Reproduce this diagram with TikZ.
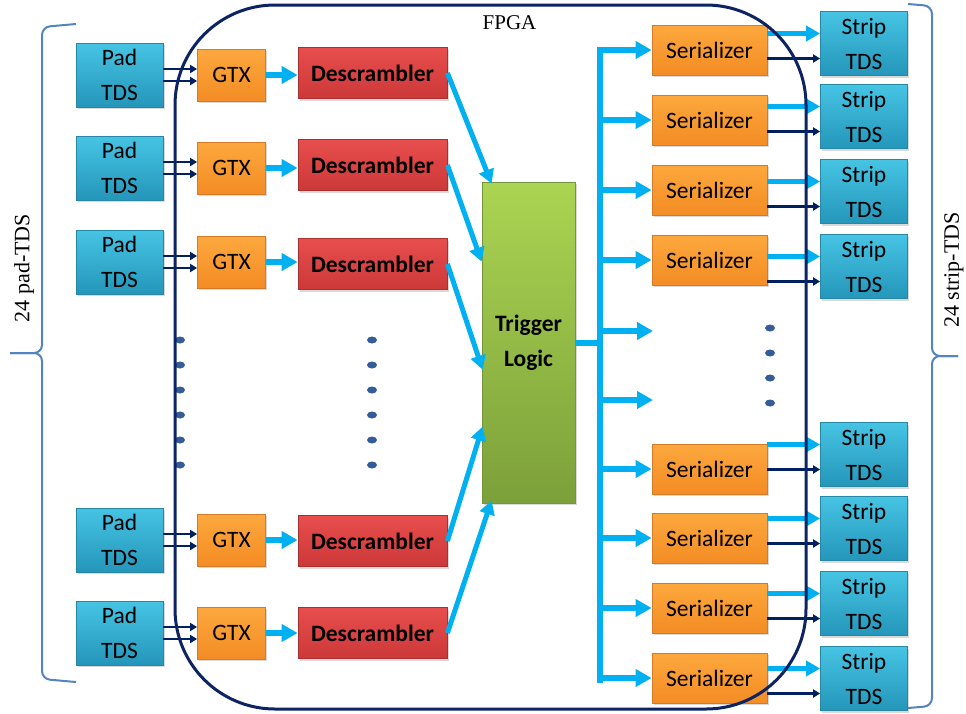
\documentclass[tikz,border=0pt]{standalone}
\usepackage{fontspec}
\setmainfont{Liberation Serif}
\newfontfamily\calibfont{Carlito}
\usetikzlibrary{arrows.meta,positioning,calc,shadows}

\definecolor{tdstop}{RGB}{70,196,228}
\definecolor{tdsbot}{RGB}{36,150,186}
\definecolor{tdsline}{RGB}{40,135,165}
\definecolor{orgtop}{RGB}{252,168,62}
\definecolor{orgbot}{RGB}{244,140,36}
\definecolor{orgline}{RGB}{212,122,40}
\definecolor{redtop}{RGB}{232,78,78}
\definecolor{redbot}{RGB}{204,56,56}
\definecolor{redline}{RGB}{168,48,48}
\definecolor{grntop}{RGB}{171,212,82}
\definecolor{grnbot}{RGB}{124,160,58}
\definecolor{grnline}{RGB}{118,148,60}
\definecolor{cyanarr}{RGB}{0,176,240}
\definecolor{navy}{RGB}{0,32,96}
\definecolor{fpgaline}{RGB}{12,36,100}
\definecolor{bracecol}{RGB}{84,132,192}
\definecolor{dotblue}{RGB}{52,92,152}

\tikzset{
  box/.style={draw, line width=0.8pt, inner sep=0pt, align=center, text=black,
    font=\calibfont\fontsize{23.5}{35}\selectfont,
    drop shadow={shadow xshift=1.5pt,shadow yshift=-2pt,opacity=0.3}},
  tdsbox/.style={box, draw=tdsline, top color=tdstop, bottom color=tdsbot,
    minimum width=87pt, minimum height=64pt},
  gtxbox/.style={box, draw=orgline, top color=orgtop, bottom color=orgbot,
    minimum width=68pt, minimum height=52pt},
  serbox/.style={box, draw=orgline, top color=orgtop, bottom color=orgbot,
    minimum width=115pt, minimum height=50pt},
  descbox/.style={box, draw=redline, top color=redtop, bottom color=redbot,
    minimum width=149pt, minimum height=51pt, font=\calibfont\bfseries\fontsize{23.5}{35}\selectfont},
  trigbox/.style={box, draw=grnline, top color=grntop, bottom color=grnbot,
    minimum width=93pt, minimum height=321pt, font=\calibfont\bfseries\fontsize{23.5}{35}\selectfont},
  fatarrow/.style={draw=cyanarr, line width=6pt, -{Triangle[width=17pt,length=16pt]}},
  slantarrow/.style={draw=cyanarr, line width=5pt, -{Triangle[width=15pt,length=14pt]}},
  thinarrow/.style={draw=navy, line width=2.5pt, -{Triangle[width=8pt,length=7pt]}},
  bus/.style={draw=cyanarr, line width=6pt},
  bracestyle/.style={draw=bracecol, line width=2pt, rounded corners=8pt},
  sidelabel/.style={rotate=90, font=\fontsize{22}{26}\selectfont}
}

\begin{document}
\begin{tikzpicture}[x=1pt,y=-1pt]
\useasboundingbox (0,0) rectangle (966,713);

% Pad-TDS, GTX and Descrambler rows
\foreach \i/\y/\d in {1/75/73, 2/168/165, 3/262/264, 4/540/541, 5/633/633} {
  \node[tdsbox] (pad\i) at (119.5,\y) {Pad\\TDS};
  \node[gtxbox] (gtx\i) at (231.5,\y) {GTX};
  \node[descbox] (desc\i) at (372.5,\d) {Descrambler};
  \draw[thinarrow] ($(pad\i.east)+(0,-6)$) -- ($(gtx\i.west |- pad\i.east)+(0,-6)$);
  \draw[thinarrow] ($(pad\i.east)+(0,6)$) -- ($(gtx\i.west |- pad\i.east)+(0,6)$);
  \draw[fatarrow] (gtx\i.east) -- (gtx\i.east -| desc\i.west);
}

% Trigger logic
\node[trigbox] (trig) at (528.5,342.5) {Trigger\\Logic};
\draw[slantarrow] (desc1.east) -- ($(trig.north west)+(10,2)$);
\draw[slantarrow] (desc2.east) -- ($(trig.north west)+(0,80)$);
\draw[slantarrow] (desc3.east) -- ($(trig.north west)+(1,188)$);
\draw[slantarrow] (desc4.east) -- ($(trig.north west)+(1,245)$);
\draw[slantarrow] (desc5.east) -- ($(trig.south west)+(10,-3)$);

% Output bus
\coordinate (bustop) at (600,47);
\coordinate (busbot) at (600,683);
\draw[bus] (bustop) -- (busbot);
\draw[bus] (trig.east) -- (trig.east -| bustop);
\coordinate (gap1) at (653,331);
\coordinate (gap2) at (653,400);
\draw[fatarrow] (bustop |- gap1) -- (gap1);
\draw[fatarrow] (bustop |- gap2) -- (gap2);

% Serializers and Strip-TDS
\foreach \i/\s/\t in {1/50/43.5, 2/120/116.5, 3/190/191.5, 4/260/266.5,
                      5/469/454.5, 6/538/528.5, 7/608/603.5, 8/678/678.5} {
  \node[serbox] (ser\i) at (709.5,\s) {Serializer};
  \node[tdsbox] (strip\i) at (864,\t) {Strip\\TDS};
  \draw[fatarrow] (bustop |- ser\i.west) -- (ser\i.west);
  \draw[slantarrow] ($(ser\i.east |- strip\i.west)+(0,-10)$) -- ($(strip\i.west)+(0,-10)$);
  \draw[thinarrow] ($(ser\i.east |- strip\i.west)+(0,15)$) -- ($(strip\i.west)+(0,15)$);
}

% Dots for the rows left out
\foreach \y in {340,365,...,465} {
  \fill[dotblue] (180,\y) ellipse (5pt and 3.5pt);
  \fill[dotblue] (372,\y) ellipse (5pt and 3.5pt);
}
\foreach \y in {328,353,378,403}
  \fill[dotblue] (770,\y) ellipse (5pt and 3.5pt);

% FPGA outline
\node[draw=fpgaline, line width=3pt, rounded corners=100pt,
      minimum width=631pt, minimum height=704pt] (fpga) at (490.5,357) {};
\node[font=\fontsize{21}{25}\selectfont] (fpgalabel) at (509.5,23) {FPGA};

% Braces
\draw[bracestyle] (76,24) -- (42,27) -- (42,353) -- (10,353);
\draw[bracestyle] (10,353) -- (42,353) -- (42,679) -- (76,682);
\node[sidelabel] (padlabel) at (24,268) {24 pad-TDS};
\draw[bracestyle] (908,4) -- (932,6) -- (932,356) -- (958,356);
\draw[bracestyle] (958,356) -- (932,356) -- (932,706) -- (908,708);
\node[sidelabel] (striplabel) at (954,270) {24 strip-TDS};
\end{tikzpicture}
\end{document}
